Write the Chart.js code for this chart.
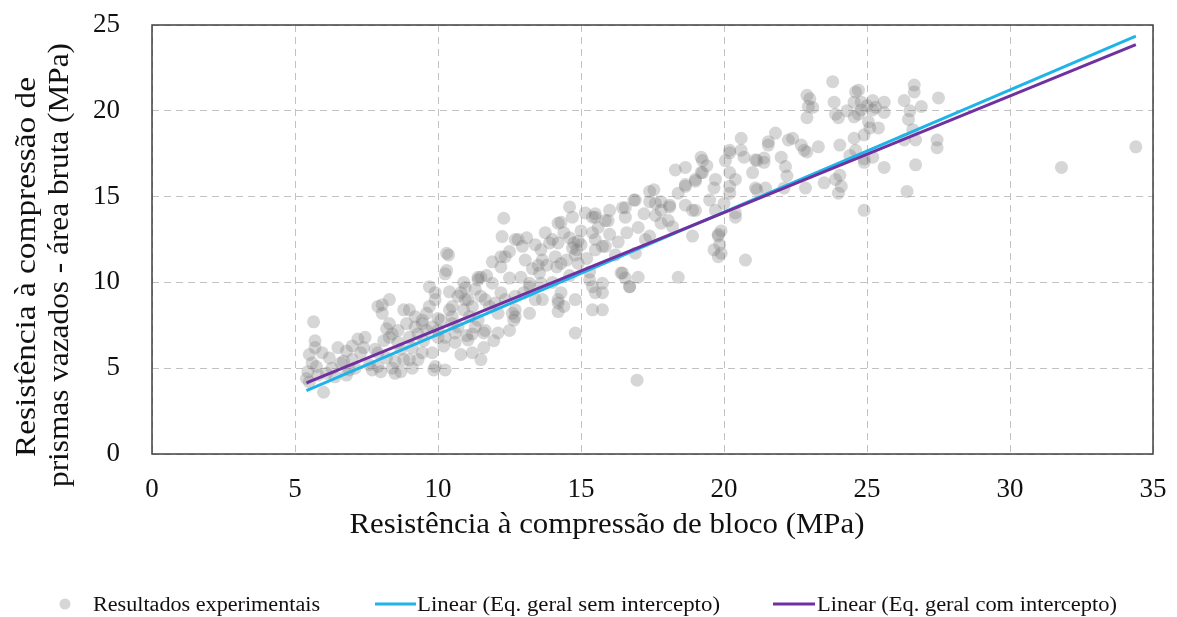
<!DOCTYPE html>
<html>
<head>
<meta charset="utf-8">
<script src="https://cdn.jsdelivr.net/npm/chart.js@4.4.1/dist/chart.umd.min.js"></script>
<style>
  html, body { margin: 0; padding: 0; background: #fff; }
  #chart { display: block; }
</style>
</head>
<body>
<canvas id="chart" width="1177" height="617"></canvas>
<script>
// Resistência do bloco (x) e do prisma (y), em MPa
const blockMPa = [
  5.4, 5.45, 5.5, 5.6, 5.65, 5.7, 5.7, 5.75, 5.8, 5.95, 6.0, 6.1, 6.3, 6.5, 6.6, 6.7, 6.8, 6.9, 7.0, 7.0,
  7.2, 7.3, 7.45, 7.6, 7.7, 7.8, 7.9, 7.9, 7.9, 8.05, 8.05, 8.0, 8.1, 8.2, 8.3, 8.3, 8.3, 8.4, 8.5, 8.5,
  8.6, 8.7, 8.8, 8.9, 9.0, 9.0, 9.1, 9.2, 9.3, 9.45, 9.5, 9.6, 9.7, 9.7, 9.8, 9.85, 9.9, 10.0, 10.0, 10.0,
  9.0, 9.45, 9.45, 9.8, 9.9, 9.9, 10.1, 10.25, 10.25, 10.6,
  5.5, 6.2, 6.4, 6.8, 7.1, 7.4, 8.2, 8.6, 8.8, 9.1, 9.3, 9.6, 9.2, 8.4, 8.7,
  10.25, 10.3, 10.3, 10.37, 10.4, 10.5, 10.6, 10.7, 10.8, 10.9, 10.95, 10.95, 11.0, 11.2, 11.3, 11.4, 11.5, 11.6, 11.65, 11.8,
  11.9, 11.95, 12.1, 12.2, 12.2, 12.24, 12.3, 12.35, 12.5, 12.65, 12.7, 12.7, 12.7, 12.95, 13.05, 13.2, 13.3, 13.5, 13.6, 13.6,
  10.5, 10.8, 11.05, 11.4, 11.5, 11.65, 12.0, 11.4, 11.6, 11.05, 11.2, 11.5, 12.1, 12.5, 12.7, 12.35, 12.2, 12.6, 13.2, 12.8,
  10.4, 10.7, 10.9, 11.1, 11.3, 11.7, 11.9, 11.2, 10.5, 10.2,
  13.75, 14.0, 14.1, 14.15, 14.2, 14.2, 14.3, 14.4, 14.5, 14.6, 14.7, 14.75, 14.8, 14.85, 14.9, 14.7, 14.9, 13.55, 13.65, 13.9,
  14.2, 14.2, 14.3, 14.2, 14.3, 13.2, 13.65, 14.8, 15.3, 15.75, 15.75, 15.4, 15.4,
  12.5, 12.9, 13.1, 13.4, 13.8, 14.0, 14.4, 14.6, 14.8, 13.0, 13.4, 14.6, 15.0, 15.0,
  15.15, 15.4, 15.4, 15.5, 15.5, 15.5, 15.75, 15.85, 15.5, 15.95, 15.85, 15.5, 16.3, 16.55, 16.55, 16.85, 16.9, 16.4, 16.55, 17.0,
  16.7, 17.0, 17.25, 17.4, 17.4, 17.55, 17.8, 17.8, 18.05, 18.1, 18.2, 18.3, 18.4, 18.65, 18.65, 18.65, 18.9, 19.0, 19.0, 19.2,
  16.45, 16.9, 17.4, 17.6, 17.8, 18.1, 18.65, 19.0, 19.25, 19.25, 18.9, 16.45, 16.7, 15.75,
  15.2, 15.6, 16.0, 16.2, 16.6, 17.2, 17.6, 16.0, 15.3,
  19.2, 19.65, 19.65, 19.7, 19.7, 19.8, 19.8, 19.85, 20.05, 20.2, 20.2, 20.2, 20.2, 20.4, 20.6, 20.6, 20.75, 21.0, 21.15, 21.15,
  20.2, 21.1, 21.1, 20.4, 19.8, 19.9,
  18.4, 19.4, 19.5, 20.0, 20.4, 20.7, 19.9,
  21.4, 21.55, 21.4, 21.45, 21.55, 21.8, 22.0, 22.1, 22.15, 22.2, 22.25, 22.4, 22.7, 22.8, 22.85, 22.9, 22.95, 23.1, 22.9, 23.5,
  23.8, 23.85, 23.9, 24.0, 24.0, 24.05, 24.05, 24.1, 24.55, 24.55, 24.55, 24.6, 24.6, 24.7, 24.8, 24.8, 24.9, 24.9, 25.05, 25.1,
  25.2, 25.2, 25.4, 25.6, 25.6, 25.6, 26.3, 26.3, 26.4, 26.45, 26.65, 26.65, 26.7, 26.7, 26.9, 27.45, 27.45, 27.5,
  23.0, 23.9, 24.3, 24.7, 25.0, 25.3, 24.9, 25.2, 26.5, 26.6, 24.9, 23.3, 22.9, 24.4,
  31.8, 34.4, 16.96
];
const prismMPa = [
  4.4, 4.8, 4.2, 5.3, 7.7, 6.6, 6.2, 5.1, 4.6, 5.9, 3.6, 4.7, 5.0, 6.2, 5.3, 5.4, 4.6, 4.9, 5.5, 6.3,
  6.7, 5.9, 6.8, 5.2, 4.9, 6.1, 8.6, 5.9, 5.1, 8.2, 8.7, 4.8, 6.6, 5.6, 9.0, 7.6, 6.8, 7.0, 5.4, 4.7,
  7.2, 6.1, 5.5, 7.6, 6.8, 8.4, 5.0, 7.4, 5.5, 7.8, 6.6, 8.2, 8.6, 9.75, 5.9, 4.9, 9.0, 6.8, 7.2, 7.9,
  5.5, 5.9, 7.6, 7.4, 5.1, 9.4, 7.8, 6.8, 4.9, 7.05,
  5.8, 5.6, 4.5, 6.0, 5.0, 6.2, 7.3, 6.5, 8.4, 6.2, 7.0, 7.2, 8.0, 5.0, 4.8,
  10.5, 11.7, 10.7, 11.6, 9.45, 8.0, 6.5, 7.4, 5.8, 8.4, 9.0, 9.7, 6.9, 8.6, 7.4, 10.3, 9.2, 6.2, 7.2, 8.6,
  9.95, 6.6, 8.2, 10.9, 11.5, 12.67, 13.74, 9.0, 10.25, 7.8, 12.5, 8.4, 9.2, 12.1, 11.3, 9.95, 10.8, 11.0, 11.9, 9.95,
  8.6, 9.4, 9.0, 10.15, 10.3, 9.0, 8.8, 7.8, 7.05, 6.65, 5.9, 5.5, 7.05, 7.2, 8.0, 11.5, 9.4, 8.2, 8.2, 12.5,
  8.4, 9.2, 10.0, 8.0, 9.6, 10.4, 11.2, 7.0, 7.6, 6.3,
  12.9, 12.5, 11.5, 10.9, 9.0, 8.3, 13.5, 8.6, 11.3, 14.4, 13.8, 12.3, 7.05, 11.9, 11.1, 12.0, 12.4, 10.55, 11.3, 12.3,
  13.45, 12.3, 11.1, 8.8, 9.4, 9.75, 9.0, 9.0, 10.15, 9.4, 8.4, 9.75, 13.8,
  11.8, 10.3, 12.6, 12.2, 11.0, 10.0, 12.9, 12.6, 11.6, 9.4, 9.0, 10.4, 12.2, 13.0,
  14.05, 12.9, 8.4, 13.8, 11.9, 9.4, 9.95, 13.6, 14.0, 13.6, 12.1, 12.5, 12.35, 14.35, 13.8, 14.8, 11.7, 10.55, 10.25, 10.3,
  9.75, 13.2, 12.5, 12.7, 14.7, 15.4, 14.7, 13.45, 13.6, 14.5, 13.25, 16.55, 10.3, 16.7, 15.7, 14.5, 12.7, 16.0, 14.2, 17.3,
  14.35, 14.8, 15.3, 14.6, 14.2, 14.4, 15.6, 15.9, 17.1, 16.4, 14.2, 10.55, 9.75, 12.1,
  11.4, 13.2, 12.8, 11.6, 12.9, 14.0, 13.9, 14.2, 10.6,
  16.4, 15.5, 11.9, 16.0, 14.2, 12.8, 11.5, 12.2, 17.1, 17.7, 16.4, 15.6, 15.2, 14.05, 18.4, 17.7, 11.3, 16.4, 17.1, 15.4,
  17.55, 17.15, 15.5, 13.8, 12.7, 11.7,
  15.2, 16.8, 14.8, 14.6, 16.0, 17.3, 13.0,
  17.0, 18.0, 17.25, 15.5, 18.2, 18.7, 17.3, 15.5, 16.75, 16.2, 18.3, 18.4, 18.0, 17.7, 15.5, 20.9, 20.25, 20.2, 19.6, 15.8,
  21.7, 20.5, 16.0, 19.6, 15.2, 18.0, 16.25, 15.6, 20.5, 19.65, 18.4, 21.1, 17.7, 21.2, 20.5, 20.05, 17.0, 14.2, 19.35, 19.0,
  20.6, 20.05, 19.0, 20.5, 19.9, 16.7, 20.6, 18.3, 15.3, 19.5, 21.5, 21.1, 18.3, 16.85, 20.25, 18.3, 17.85, 20.75,
  20.7, 19.8, 20.0, 19.8, 20.3, 20.2, 18.6, 17.3, 20.0, 18.9, 17.2, 17.9, 17.6, 17.4,
  16.7, 17.9, 4.3
];

// Retas de ajuste: extremos em x e valores correspondentes
const fitX = [5.4, 34.4];
const fitNoIntercept = [3.7, 24.35];
const fitWithIntercept = [4.15, 23.86];

const xTicks = [0, 5, 10, 15, 20, 25, 30, 35];
const yTicks = [0, 5, 10, 15, 20, 25];

const seriesLabels = [
  'Resultados experimentais',
  'Linear (Eq. geral sem intercepto)',
  'Linear (Eq. geral com intercepto)'
];
const xTitle = 'Resistência à compressão de bloco (MPa)';
const yTitle = ['Resistência à compressão de', 'prismas vazados - área bruta (MPa)'];

const SERIF = '"Liberation Serif", "Times New Roman", serif';
const CYAN = '#1eb4e9';
const PURPLE = '#7030a0';
const DOT = 'rgba(120,120,120,0.3)';

const points = blockMPa.map((x, i) => ({ x: x, y: prismMPa[i] }));
const lineA = fitX.map((x, i) => ({ x: x, y: fitNoIntercept[i] }));
const lineB = fitX.map((x, i) => ({ x: x, y: fitWithIntercept[i] }));

// draws text stretched/squeezed horizontally to a given width
function fitText(ctx, text, x, y, width) {
  const w = ctx.measureText(text).width;
  ctx.save();
  ctx.translate(x, y);
  ctx.scale(width / w, 1);
  ctx.fillText(text, 0, 0);
  ctx.restore();
}

// scales should not reserve extra room for their edge labels
function noEdgePadding(scale) {
  scale.paddingTop = 0;
  scale.paddingBottom = 0;
  scale.paddingLeft = 0;
  scale.paddingRight = 0;
}

const decorations = {
  id: 'decorations',
  beforeDatasetsDraw(chart) {
    const { ctx, chartArea } = chart;
    ctx.save();
    ctx.strokeStyle = '#404040';
    ctx.lineWidth = 1.5;
    ctx.strokeRect(chartArea.left, chartArea.top, chartArea.right - chartArea.left, chartArea.bottom - chartArea.top);
    ctx.restore();
  },
  afterDraw(chart) {
    const ctx = chart.ctx;
    ctx.save();
    ctx.fillStyle = '#111';
    ctx.textBaseline = 'alphabetic';

    // axis titles
    ctx.font = '30px ' + SERIF;
    ctx.textAlign = 'center';
    fitText(ctx, xTitle, 607, 533, 515);

    ctx.save();
    ctx.translate(35, 267);
    ctx.rotate(-Math.PI / 2);
    fitText(ctx, yTitle[0], 0, 0, 380);
    ctx.restore();
    ctx.save();
    ctx.translate(68, 265);
    ctx.rotate(-Math.PI / 2);
    fitText(ctx, yTitle[1], 0, 0, 444);
    ctx.restore();

    // legend
    const ly = 604;
    ctx.fillStyle = DOT;
    ctx.beginPath();
    ctx.arc(65, ly, 5.5, 0, Math.PI * 2);
    ctx.fill();

    ctx.lineWidth = 3;
    ctx.strokeStyle = CYAN;
    ctx.beginPath(); ctx.moveTo(375, ly); ctx.lineTo(416, ly); ctx.stroke();
    ctx.strokeStyle = PURPLE;
    ctx.beginPath(); ctx.moveTo(773, ly); ctx.lineTo(815, ly); ctx.stroke();

    ctx.fillStyle = '#111';
    ctx.font = '20px ' + SERIF;
    ctx.textAlign = 'left';
    fitText(ctx, seriesLabels[0], 93, 611, 227);
    fitText(ctx, seriesLabels[1], 417, 611, 303);
    fitText(ctx, seriesLabels[2], 817, 611, 300);
    ctx.restore();
  }
};

const tickFont = { family: SERIF, size: 27 };

new Chart(document.getElementById('chart'), {
  type: 'scatter',
  data: {
    datasets: [
      {
        label: seriesLabels[2],
        data: lineB,
        showLine: true,
        borderColor: PURPLE,
        borderWidth: 3,
        pointRadius: 0,
        fill: false,
        order: 0
      },
      {
        label: seriesLabels[1],
        data: lineA,
        showLine: true,
        borderColor: CYAN,
        borderWidth: 3,
        pointRadius: 0,
        fill: false,
        order: 1
      },
      {
        label: seriesLabels[0],
        data: points,
        backgroundColor: DOT,
        borderWidth: 0,
        pointRadius: 6.5,
        pointHoverRadius: 6.5,
        order: 2
      }
    ]
  },
  options: {
    responsive: false,
    animation: false,
    events: [],
    layout: { padding: { top: 25, right: 24, left: 0, bottom: 0 } },
    plugins: {
      legend: { display: false },
      tooltip: { enabled: false }
    },
    scales: {
      x: {
        type: 'linear',
        min: xTicks[0],
        max: xTicks[xTicks.length - 1],
        afterBuildTicks(scale) { scale.ticks = xTicks.map(v => ({ value: v })); },
        ticks: { font: tickFont, color: '#111', padding: 20, maxRotation: 0 },
        grid: { color: '#c2c2c2', lineWidth: 1, drawTicks: false },
        border: { display: false, dash: [7, 5] },
        afterFit(scale) { scale.height = 163; noEdgePadding(scale); }
      },
      y: {
        type: 'linear',
        min: yTicks[0],
        max: yTicks[yTicks.length - 1],
        afterBuildTicks(scale) { scale.ticks = yTicks.map(v => ({ value: v })); },
        ticks: { font: tickFont, color: '#111', padding: 32 },
        grid: { color: '#c2c2c2', lineWidth: 1, drawTicks: false },
        border: { display: false, dash: [7, 5] },
        afterFit(scale) { scale.width = 152; noEdgePadding(scale); }
      }
    }
  },
  plugins: [decorations]
});
</script>
</body>
</html>
